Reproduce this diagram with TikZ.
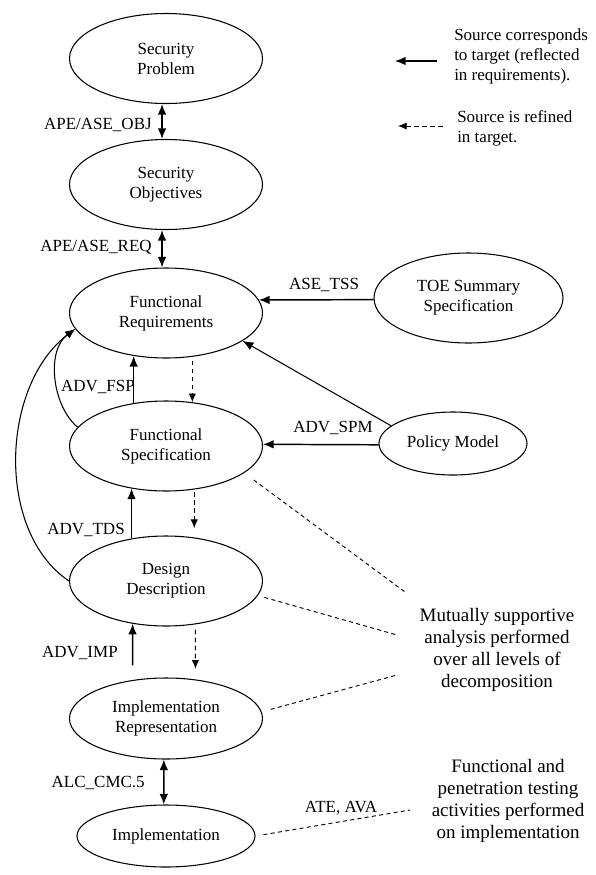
\documentclass[tikz,border=0pt]{standalone}
\usepackage{fontspec}
\setmainfont{Liberation Serif}
\usetikzlibrary{shapes.geometric}
\usetikzlibrary{arrows.meta}

\tikzset{
  lvl/.style={draw, ellipse, line width=0.8pt, inner sep=0pt, minimum width=144.75pt, minimum height=67.5pt, align=center},
  lbl/.style={inner sep=0pt},
  note/.style={inner sep=0pt, align=center, font=\fontsize{14.25}{16.5}\selectfont},
  corr/.style={line width=1.1pt, -{Latex[length=8pt,width=6.5pt]}},
  bidir/.style={line width=1.1pt, {Latex[length=8pt,width=6.5pt]}-{Latex[length=8pt,width=6.5pt]}},
  refine/.style={line width=0.7pt, dash pattern={on 3.5pt off 2.5pt}, -{Latex[length=6.5pt,width=5.5pt]}},
  back/.style={line width=0.8pt, -{Latex[length=7.5pt,width=6pt]}},
  mutual/.style={line width=0.7pt, dash pattern={on 3pt off 2.5pt}}
}

\begin{document}
\begin{tikzpicture}[x=0.75pt,y=0.75pt,yscale=-1,xscale=1,font=\fontsize{12.75}{15}\selectfont]
\useasboundingbox (0,0) rectangle (596,875);

%Shape: Ellipse
\node[lvl] (sp) at (166,58.5) {Security\\Problem};
%Shape: Ellipse
\node[lvl] (so) at (166,184.5) {Security\\Objectives};
%Shape: Ellipse
\node[lvl] (fr) at (166,313) {Functional\\Requirements};
%Shape: Ellipse
\node[lvl] (fs) at (166,446) {Functional\\Specification};
%Shape: Ellipse
\node[lvl] (dd) at (166,581) {Design\\Description};
%Shape: Ellipse
\node[lvl, minimum height=60.75pt] (ir) at (166,718.5) {Implementation\\Representation};
%Shape: Ellipse
\node[lvl, minimum width=133.5pt, minimum height=46.5pt] (impl) at (166,836) {Implementation};
%Shape: Ellipse
\node[lvl, minimum width=141.75pt] (toe) at (468.5,298) {TOE Summary\\Specification};
%Shape: Ellipse
\node[lvl, minimum width=111pt, minimum height=47.25pt] (pm) at (453,443.5) {Policy Model};

%Straight Lines
\draw[bidir] (sp.265) -- (so.95);
\draw[bidir] (so.265) -- (fr.95);
\draw[corr] (toe.181) -- (fr.8);
\draw[corr, line width=0.8pt] (pm.164) -- (fr.340);
\draw[corr] (pm.181) -- (fs.1);
\draw[corr] (fs.127) -- (fr.233);
\draw[refine, shorten <=3pt] (fr.301) -- (fs.59);
\draw[corr] (dd.129) -- (fs.231);
\draw[refine, shorten <=2pt, shorten >=7pt] (fs.303) -- (dd.57);
\draw[corr, shorten <=11pt] (ir.131) -- (dd.232);
\draw[refine, shorten <=4pt, shorten >=8pt] (dd.304) -- (ir.53);
\draw[bidir] (ir.267) -- (impl.94);

%Curve Lines
\draw[back] (fs.168) .. controls +(-26,-22) and +(-29,21) .. (fr.190);
\draw[back] (dd.180) .. controls +(-74,-50) and +(-74,56) .. (fr.190);

% Text Node
\node[lbl, anchor=east] (lobj) at (152,125) {APE/ASE\_OBJ};
% Text Node
\node[lbl, anchor=east] (lreq) at (152,247) {APE/ASE\_REQ};
% Text Node
\node[lbl] (ltss) at (324,285) {ASE\_TSS};
% Text Node
\node[lbl] (lspm) at (333,428) {ADV\_SPM};
% Text Node
\node[lbl, anchor=east] (lfsp) at (135,387) {ADV\_FSP};
% Text Node
\node[lbl, anchor=east] (ltds) at (125,530) {ADV\_TDS};
% Text Node
\node[lbl, anchor=east] (limp) at (118,653) {ADV\_IMP};
% Text Node
\node[lbl, anchor=east] (lcmc) at (145,783) {ALC\_CMC.5};
% Text Node
\node[lbl] (late) at (341,808) {ATE, AVA};

% Text Node
\node[note] (mut) at (497,650) {Mutually supportive\\analysis performed\\over all levels of\\decomposition};
% Text Node
\node[note] (tst) at (508,801) {Functional and\\penetration testing\\activities performed\\on implementation};

%Straight Lines
\coordinate (m1) at (405,592);
\coordinate (m2) at (397,635);
\coordinate (m3) at (397,675);
\coordinate (m4) at (410,810);
\draw[mutual, shorten <=9pt] (fs.341) -- (m1);
\draw[mutual, shorten <=5pt] (dd.351) -- (m2);
\draw[mutual, shorten <=7pt] (ir.4) -- (m3);
\draw[mutual, shorten <=6pt] (impl.east) -- (m4);

% Text Node
\node[lbl, align=left, anchor=west] (lgc) at (454,56) {Source corresponds\\to target (reflected\\in requirements).};
% Text Node
\node[lbl, align=left, anchor=west] (lgr) at (457,128) {Source is refined\\in target.};
\coordinate (la1) at (437,61);
\coordinate (lb1) at (395,61);
\coordinate (la2) at (443,126);
\coordinate (lb2) at (398,126);
\draw[corr] (la1) -- (lb1);
\draw[refine] (la2) -- (lb2);

\end{tikzpicture}
\end{document}
